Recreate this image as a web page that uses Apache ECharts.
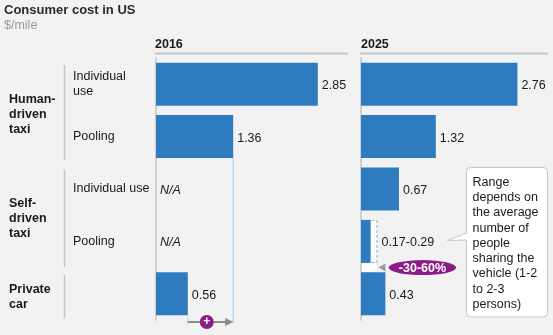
<!DOCTYPE html>
<html>
<head>
<meta charset="utf-8">
<script src="https://cdn.jsdelivr.net/npm/echarts@6/dist/echarts.min.js"></script>
<style>html,body{margin:0;padding:0;background:#f2f2f2}#main{width:553px;height:335px}</style>
</head>
<body>
<div id="main"></div>
<script>
// consumer cost, $/mile, rows top to bottom
var rows = ['Individual\nuse', 'Pooling', 'Individual use', 'Pooling', ''];
var groups = ['Human-\ndriven\ntaxi', 'Self-\ndriven\ntaxi', 'Private\ncar'];
var years = ['2016', '2025'];
var cost2016 = [2.85, 1.36, null, null, 0.56];
var cost2025 = [2.76, 1.32, 0.67, 0.17, 0.43];
var poolRange2025 = [0.17, 0.29];
var saving = '-30-60%';
var note = 'Range\ndepends on\nthe average\nnumber of\npeople\nsharing the\nvehicle (1-2\nto 2-3\npersons)';

var FONT = '"Liberation Sans", Arial, sans-serif';
var BLUE = '#2f7bbf';
var PURPLE = '#8c1d87';
var GREY = '#c4c4c4';

var chart = echarts.init(document.getElementById('main'));

var valLabel = {show: true, position: 'right', distance: 4, offset: [0, 1.5], fontSize: 12.5, color: '#1a1a1a'};

var option = {
    backgroundColor: '#f2f2f2',
    animation: false,
    textStyle: {fontFamily: FONT},
    grid: [
        {left: 156, top: 58, width: 193, height: 262},
        {left: 361, top: 58, width: 187, height: 262}
    ],
    xAxis: [
        {type: 'value', gridIndex: 0, min: 0, max: 3.4, show: false},
        {type: 'value', gridIndex: 1, min: 0, max: 3.3, show: false}
    ],
    yAxis: [
        {
            type: 'category', gridIndex: 0, inverse: true, data: rows,
            axisLine: {show: true, lineStyle: {color: GREY, width: 1.5}},
            axisTick: {show: false},
            axisLabel: {align: 'left', margin: 83, fontSize: 12.5, color: '#1a1a1a', lineHeight: 15,
                padding: [3, 0, 0, 0]}
        },
        {
            type: 'category', gridIndex: 1, inverse: true, data: rows,
            axisLine: {show: true, lineStyle: {color: GREY, width: 1.5}},
            axisTick: {show: false},
            axisLabel: {show: false}
        }
    ],
    series: [
        {
            name: years[0], type: 'bar', xAxisIndex: 0, yAxisIndex: 0,
            barCategoryGap: '18%',
            itemStyle: {color: BLUE},
            label: valLabel,
            data: cost2016.map(function (v) {
                return v == null ? {value: 0, label: {formatter: 'N/A', fontStyle: 'italic'}} : v;
            })
        },
        {
            name: 'range', type: 'bar', xAxisIndex: 1, yAxisIndex: 1,
            barCategoryGap: '18%', barGap: '-100%',
            itemStyle: {color: '#fbfcfe', borderColor: '#86b4dd', borderWidth: 1, borderType: [3, 2]},
            label: {show: true, position: 'right', distance: 4, offset: [0, 1.5], fontSize: 12.5, color: '#1a1a1a',
                formatter: poolRange2025.join('-')},
            data: rows.map(function (r, i) { return i === 3 ? poolRange2025[1] : null; })
        },
        {
            name: years[1], type: 'bar', xAxisIndex: 1, yAxisIndex: 1,
            barCategoryGap: '18%', barGap: '-100%',
            itemStyle: {color: BLUE},
            label: valLabel,
            data: cost2025.map(function (v, i) {
                return i === 3 ? {value: v, label: {show: false}} : v;
            })
        }
    ]
};
chart.setOption(option);

// annotations placed from the axes
var band = chart.convertToPixel({gridIndex: 0}, [0, 1])[1] - chart.convertToPixel({gridIndex: 0}, [0, 0])[1];
var half = band * 0.82 / 2;
var pPool16 = chart.convertToPixel({gridIndex: 0}, [cost2016[1], 1]);
var pCar16 = chart.convertToPixel({gridIndex: 0}, [cost2016[4], 4]);
var arrowY = pCar16[1] + band / 2 + 2;
var pRange = chart.convertToPixel({gridIndex: 1}, [poolRange2025[1], 3]);
var x0r = chart.convertToPixel({gridIndex: 1}, [0, 3])[0];
var gapTop = pRange[1] + half, gapBot = pRange[1] + band - half;
var midY = (gapTop + gapBot) / 2;

function txt(x, y, s, font, fill, align) {
    return {type: 'text', x: x, y: y, style: {text: s, font: font, fill: fill || '#1a1a1a',
        textAlign: align || 'left', textVerticalAlign: 'middle', verticalAlign: 'middle', lineHeight: 15}};
}
function line(x1, y1, x2, y2, color, w) {
    return {type: 'line', shape: {x1: x1, y1: y1, x2: x2, y2: y2}, style: {stroke: color, lineWidth: w}};
}

var g = [
    txt(4, 10.5, 'Consumer cost in US', 'bold 13px ' + FONT, '#2b2b2b'),
    txt(4, 25.5, '$/mile', '12.5px ' + FONT, '#9a9a9a'),
    txt(155, 45, years[0], 'bold 12.5px ' + FONT, '#1a1a1a'),
    line(155, 53.5, 348, 53.5, GREY, 2),
    txt(361, 45, years[1], 'bold 12.5px ' + FONT, '#1a1a1a'),
    line(360, 53.5, 548, 53.5, GREY, 2),
    txt(9, 114.5, groups[0], 'bold 12.5px ' + FONT),
    txt(9, 218.5, groups[1], 'bold 12.5px ' + FONT),
    txt(9, 297.5, groups[2], 'bold 12.5px ' + FONT),
    line(64.5, 65, 64.5, 160, GREY, 1.5),
    line(64.5, 170, 64.5, 267, GREY, 1.5),
    line(64.5, 275, 64.5, 318, GREY, 1.5),
    // 2016: pooling vs private car
    line(pPool16[0], pPool16[1] + half, pPool16[0], arrowY + 1, '#a9c9e6', 1),
    line(pCar16[0], pCar16[1] + half, pCar16[0], arrowY + 3, '#d6d6d6', 1),
    line(pCar16[0], arrowY, pPool16[0] - 6, arrowY, '#8c8c8c', 2),
    {type: 'polygon', shape: {points: [[pPool16[0] - 8, arrowY - 4], [pPool16[0], arrowY], [pPool16[0] - 8, arrowY + 4]]},
        style: {fill: '#8c8c8c'}},
    {type: 'circle', shape: {cx: pCar16[0] + 19, cy: arrowY, r: 7}, style: {fill: PURPLE}},
    txt(pCar16[0] + 19, arrowY, '+', 'bold 12px ' + FONT, '#ffffff', 'center'),
    // 2025: self-driven pooling vs private car
    {type: 'rect', shape: {x: x0r, y: gapTop, width: pRange[0] - x0r, height: gapBot - gapTop},
        style: {fill: '#ffffff', stroke: '#e2e2e2', lineWidth: 1}},
    {type: 'polygon', shape: {points: [[pRange[0] + 1, midY], [pRange[0] + 8, midY - 4], [pRange[0] + 8, midY + 4]]},
        style: {fill: '#9a9a9a'}},
    {type: 'circle', x: pRange[0] + 45, y: midY, scaleX: 4.5, shape: {cx: 0, cy: 0, r: 7.5}, style: {fill: PURPLE}},
    txt(pRange[0] + 45, midY + 0.5, saving, 'bold 12.5px ' + FONT, '#ffffff', 'center'),
    // callout
    {type: 'rect', shape: {x: 466.5, y: 167.5, width: 81, height: 149.5, r: 4},
        style: {fill: '#ffffff', stroke: '#c6c6c6', lineWidth: 1}},
    {type: 'polygon', shape: {points: [[467.5, 233], [447.5, 240.5], [467.5, 240]]},
        style: {fill: '#ffffff'}},
    {type: 'polyline', shape: {points: [[466.5, 233], [447.5, 240.5], [466.5, 240]]},
        style: {stroke: '#c6c6c6', lineWidth: 1, fill: null}},
    {type: 'text', x: 472.5, y: 174.5, style: {text: note, font: '12.5px ' + FONT, fill: '#1a1a1a',
        textVerticalAlign: 'top', verticalAlign: 'top', lineHeight: 15.3}}
];
chart.setOption({graphic: g});
</script>
</body>
</html>
